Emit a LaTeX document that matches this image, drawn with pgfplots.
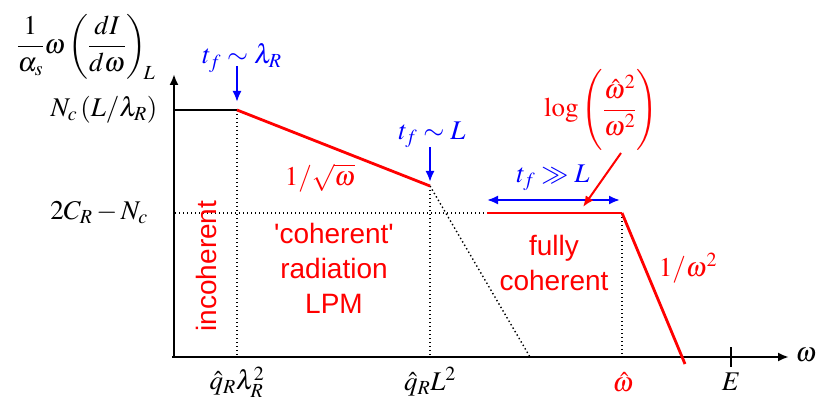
\documentclass[border=0pt]{standalone}
\usepackage{mathptmx}
\usepackage{fontspec}
\setmainfont{Liberation Serif}
\setsansfont{Liberation Sans}
\usepackage{pgfplots}
\pgfplotsset{compat=1.18}
\usetikzlibrary{arrows.meta}
\definecolor{myred}{RGB}{255,0,0}
\definecolor{myblue}{RGB}{0,0,255}
\begin{document}
\begin{tikzpicture}
\begin{axis}[
  width=816pt, height=398pt, scale only axis,
  xmin=0, xmax=816, ymin=0, ymax=398, y dir=reverse,
  axis lines=none, clip=false,
  every axis plot/.append style={mark=none},
]
% axes
\addplot[black, line width=2.2pt, -{Latex[length=11pt,width=9pt]}] coordinates {(174,357) (174,74)};
\addplot[black, line width=2.2pt, -{Latex[length=11pt,width=9pt]}] coordinates {(172,357) (789,357)};
\addplot[black, line width=2.2pt] coordinates {(731,347) (731,367)};
% dotted guides
\addplot[black, line width=1.4pt, dash pattern=on 1.4pt off 2.6pt] coordinates {(237,110) (237,357)};
\addplot[black, line width=1.4pt, dash pattern=on 1.4pt off 2.6pt] coordinates {(430,186) (430,357)};
\addplot[black, line width=1.4pt, dash pattern=on 1.4pt off 2.6pt] coordinates {(430,186) (530,357)};
\addplot[black, line width=1.4pt, dash pattern=on 1.4pt off 2.6pt] coordinates {(622,213) (622,357)};
\addplot[black, line width=1.4pt, dash pattern=on 1.4pt off 2.6pt] coordinates {(175,213) (487,213)};
% curves
\addplot[black, line width=2.5pt] coordinates {(175,110) (237,110)};
\addplot[myred, line width=2.8pt] coordinates {(237,110) (430,186)};
\addplot[myred, line width=2.8pt] coordinates {(487,213) (622,213)};
\addplot[myred, line width=2.8pt] coordinates {(622,213) (685,364)};
% blue arrows
\addplot[myblue, line width=2pt, -{Latex[length=11pt,width=9pt]}] coordinates {(237,66) (237,102)};
\addplot[myblue, line width=2pt, -{Latex[length=11pt,width=9pt]}] coordinates {(430,147) (430,182)};
\addplot[myblue, line width=2pt, {Latex[length=11pt,width=9pt]}-{Latex[length=11pt,width=9pt]}] coordinates {(487,200) (620,200)};
% red arrow
\addplot[myred, line width=2pt, -{Latex[length=11pt,width=9pt]}] coordinates {(621,153) (583,207)};
% texts
\begin{scope}[every node/.style={font=\fontsize{27}{32}\selectfont}]
\node at (axis cs:86,47) {$\displaystyle \frac{1}{\alpha_s}\omega\left(\frac{dI}{d\omega}\right)_{\!L}$};
\node at (axis cs:104,110) {$N_c\left(L/\lambda_R\right)$};
\node at (axis cs:99,213) {$2C_R-N_c$};
\node[myblue] at (axis cs:242,58) {$t_f\sim\lambda_R$};
\node[myblue] at (axis cs:432,135) {$t_f\sim L$};
\node[myblue] at (axis cs:553,178) {$t_f\gg L$};
\node[myred] at (axis cs:601,111) {$\displaystyle \log\left(\rule[-36pt]{0pt}{84pt}\frac{\hat\omega^2}{\omega^2}\right)$};
\node[myred] at (axis cs:320,178) {$1/\sqrt{\omega}$};
\node[myred] at (axis cs:688,268) {$1/\omega^2$};
\node at (axis cs:237,382) {$\hat q_R\lambda_R^2$};
\node at (axis cs:430,382) {$\hat q_R L^2$};
\node[myred] at (axis cs:623,382) {$\hat\omega$};
\node at (axis cs:731,382) {$E$};
\node at (axis cs:806,355) {$\omega$};
\end{scope}
\begin{scope}[every node/.style={font=\sffamily\fontsize{28}{35}\selectfont, text=myred, align=center}]
\node[rotate=90] at (axis cs:206,266) {incoherent};
\node at (axis cs:334,268) {\textquotesingle coherent\textquotesingle\\radiation\\LPM};
\node at (axis cs:554,263) {fully\\coherent};
\end{scope}
\end{axis}
\pgfresetboundingbox
\path (current axis.south west) rectangle (current axis.north east);
\end{tikzpicture}
\end{document}
